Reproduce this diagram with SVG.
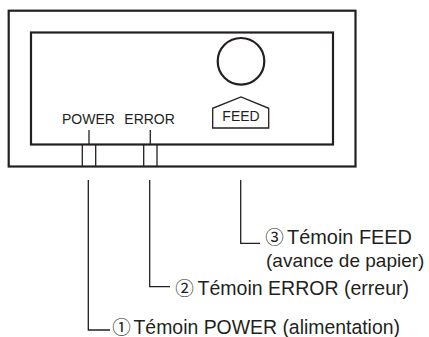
<svg xmlns="http://www.w3.org/2000/svg" width="429" height="337" viewBox="0 0 429 337">
<style>
.frame{fill:none;stroke:#231f20;stroke-width:2.2}
.thin{fill:none;stroke:#231f20;stroke-width:1.3}
.conn{fill:none;stroke:#231f20;stroke-width:1.3}
.lbl{font-family:"Liberation Sans",Arial,sans-serif;fill:#231f20}
.small{font-size:14px}
.big{font-size:20.5px}
.circ{font-family:"Noto Sans CJK JP","DejaVu Sans",sans-serif;font-size:18.5px;fill:#231f20;text-anchor:middle}
</style>
<rect width="429" height="337" fill="#ffffff"/>
<g id="outer-panel">
  <rect class="frame" x="8.7" y="10.7" width="346.8" height="155.8"/>
</g>
<g id="inner-panel">
  <rect class="frame" x="31" y="32.5" width="302" height="112"/>
</g>
<g id="feed-led">
  <circle class="frame" cx="241" cy="61.3" r="23.3" stroke-width="2"/>
</g>
<g id="feed-button">
  <polygon class="thin" points="212.7,128 212.7,108.3 241,97 268.7,108.3 268.7,128"/>
  <text class="lbl small" x="241" y="120.7" text-anchor="middle">FEED</text>
</g>
<g id="power-led">
  <text class="lbl small" x="62" y="124">POWER</text>
  <line class="thin" x1="89" y1="130" x2="89" y2="144"/>
  <line class="thin" x1="82.3" y1="144.5" x2="82.3" y2="166.5"/>
  <line class="thin" x1="95.7" y1="144.5" x2="95.7" y2="166.5"/>
</g>
<g id="error-led">
  <text class="lbl small" x="124.3" y="124">ERROR</text>
  <line class="thin" x1="150.3" y1="130" x2="150.3" y2="144"/>
  <line class="thin" x1="143.7" y1="144.5" x2="143.7" y2="166.5"/>
  <line class="thin" x1="157" y1="144.5" x2="157" y2="166.5"/>
</g>
<g id="connectors">
  <polyline class="conn" points="240.7,180 240.7,243.3 260,243.3"/>
  <polyline class="conn" points="149.7,180 149.7,286.7 170,286.7"/>
  <polyline class="conn" points="88.3,180 88.3,330 110,330"/>
</g>
<g id="label-feed">
  <text class="circ" x="274.5" y="244">③</text>
  <text class="lbl big" x="287" y="244" textLength="125" lengthAdjust="spacingAndGlyphs">Témoin FEED</text>
  <text class="lbl" x="266" y="267" font-size="19">(avance de papier)</text>
</g>
<g id="label-error">
  <text class="circ" x="184.5" y="295">②</text>
  <text class="lbl big" x="197.5" y="295" textLength="211.5" lengthAdjust="spacingAndGlyphs">Témoin ERROR (erreur)</text>
</g>
<g id="label-power">
  <text class="circ" x="121.5" y="333.5">①</text>
  <text class="lbl big" x="133.5" y="333.5" textLength="266.5" lengthAdjust="spacingAndGlyphs">Témoin POWER (alimentation)</text>
</g>
</svg>
